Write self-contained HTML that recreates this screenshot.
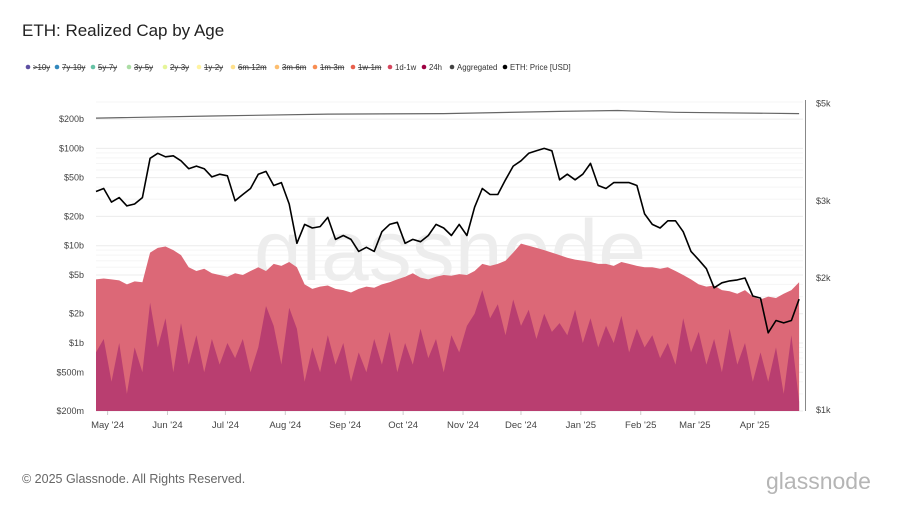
<!DOCTYPE html>
<html><head><meta charset="utf-8"><style>
body{margin:0;width:900px;height:506px;background:#fff;font-family:"Liberation Sans",sans-serif;overflow:hidden;position:relative}
.t{position:absolute}
</style></head><body>
<div class="t" style="left:22px;top:21px;font-size:17px;color:#222">ETH: Realized Cap by Age</div>
<svg id="c" width="900" height="506" style="position:absolute;left:0;top:0"></svg>
<div class="t" style="left:22px;top:472px;font-size:12.5px;color:#666">© 2025 Glassnode. All Rights Reserved.</div>
<div class="t" style="left:766px;top:468px;font-size:23px;color:#b5b5b5">glassnode</div>
<script>
const days=[];for(let i=0;i<92;i++)days.push(i*4);
const price=[3150,3200,2980,3050,2920,2950,3050,3750,3850,3780,3800,3700,3550,3600,3550,3400,3450,3420,3000,3100,3200,3450,3500,3250,3300,2950,2400,2650,2600,2620,2750,2450,2500,2450,2300,2350,2300,2550,2650,2680,2400,2450,2420,2500,2650,2600,2500,2650,2500,2900,3200,3100,3100,3350,3600,3700,3850,3900,3950,3900,3350,3450,3350,3450,3650,3250,3200,3300,3300,3300,3250,2800,2650,2600,2700,2700,2550,2300,2200,2100,1900,1950,1970,1980,2000,1820,1800,1500,1600,1580,1600,1790];
const cap1d1w=[4.5,4.6,4.5,4.4,4.0,4.3,4.2,8.5,9.5,9.8,9.0,8.0,6.0,5.5,5.8,5.2,5.0,4.8,5.2,5.0,5.5,6.0,5.5,6.5,6.2,6.8,6.0,4.0,3.6,3.8,3.9,3.6,3.5,3.3,3.6,3.8,3.7,4.0,4.2,4.5,4.8,5.2,4.7,4.5,4.8,5.0,4.9,5.1,5.0,5.5,6.5,6.2,6.5,7.0,8.5,10.5,10.0,9.5,9.0,8.5,8.0,7.5,7.2,7.0,6.8,6.5,6.5,6.2,6.8,6.5,6.2,6.0,6.0,5.8,6.0,5.5,5.0,4.5,4.0,3.8,3.9,3.5,3.4,3.2,3.5,3.0,2.8,3.0,2.9,3.2,3.5,4.2];
const cap24h=[0.8,1.1,0.4,1.0,0.3,0.9,0.5,2.6,0.9,1.8,0.5,1.6,0.6,1.2,0.5,1.1,0.6,1.0,0.7,1.1,0.5,0.9,2.4,1.5,0.6,2.3,1.4,0.4,0.9,0.5,1.2,0.6,1.0,0.4,0.8,0.5,1.1,0.6,1.3,0.5,1.0,0.6,1.4,0.7,1.1,0.5,1.2,0.8,1.5,2.0,3.5,1.8,2.5,1.2,2.8,1.5,2.2,1.1,2.0,1.3,1.6,1.2,2.2,1.0,1.8,0.9,1.5,1.0,1.9,0.8,1.4,0.9,1.2,0.7,1.0,0.6,1.8,0.8,1.3,0.6,1.1,0.5,1.4,0.6,1.0,0.4,0.8,0.4,0.9,0.3,1.2,0.25];
const aggDays=[0,60,120,180,240,270,300,364];
const aggregated=[205,215,225,228,240,245,235,228];
const leftTicks=[0.2,0.5,1,2,5,10,20,50,100,200];
const leftLabels=["$200m","$500m","$1b","$2b","$5b","$10b","$20b","$50b","$100b","$200b"];
const rightTicks=[1000,2000,3000,5000];
const rightLabels=["$1k","$2k","$3k","$5k"];
const monthLabels=["May '24","Jun '24","Jul '24","Aug '24","Sep '24","Oct '24","Nov '24","Dec '24","Jan '25","Feb '25","Mar '25","Apr '25"];
const monthDays=[6,37,67,98,129,159,190,220,251,282,310,341];
const legendNames=[">10y","7y-10y","5y-7y","3y-5y","2y-3y","1y-2y","6m-12m","3m-6m","1m-3m","1w-1m","1d-1w","24h","Aggregated","ETH: Price [USD]"];
const legendColors=["#5e4fa2","#3288bd","#66c2a5","#abdda4","#e6f598","#fff3a0","#fee08b","#fdbe6f","#f88d52","#e8604d","#d5475e","#9e0142","#444","#000"];
const legendX=[28,57,93,129,165,199,233,277,315,353,390,424,452,505];

const X0=96,X1=803,Y0=411;
const x=d=>X0+d*(X1-X0)/366;
const yL=v=>411-(Math.log10(v)-Math.log10(0.2))*97.3;
const yR=p=>410-Math.log10(p/1000)*438.5;
const svg=document.getElementById('c');const NS="http://www.w3.org/2000/svg";
function mk(t,a,p){const e=document.createElementNS(NS,t);for(const k in a)e.setAttribute(k,a[k]);(p||svg).appendChild(e);return e;}
for(let dec=-1;dec<3;dec++)for(let m=1;m<10;m++){const v=m*Math.pow(10,dec);if(v<0.2||v>300)continue;
 const g=mk('line',{x1:X0,x2:X1,y1:yL(v),y2:yL(v),stroke:(m==1||m==2||m==5)?'#ececec':'#f5f5f5','stroke-width':1});
 }
const wm=mk('text',{x:450,y:280,'text-anchor':'middle','font-size':86,fill:'#ededed','font-family':'Liberation Sans, sans-serif'});
wm.textContent='glassnode';

function area(arr,col,name){let d=`M${x(days[0])},${Y0}`;arr.forEach((v,i)=>d+=`L${x(days[i]).toFixed(1)},${yL(v).toFixed(1)}`);d+=`L${x(days[days.length-1])},${Y0}Z`;
 const p=mk('path',{d,fill:col});}
area(cap1d1w,'#dc6877','area-1d-1w');
area(cap24h,'#b93e70','area-24h');
{let d='';aggregated.forEach((v,i)=>d+=(i?'L':'M')+x(aggDays[i]).toFixed(1)+','+yL(v).toFixed(1));
 const p=mk('path',{d,fill:'none',stroke:'#666','stroke-width':1.2});}
{let d='';price.forEach((v,i)=>d+=(i?'L':'M')+x(days[i]).toFixed(1)+','+yR(v).toFixed(1));
 const p=mk('path',{d,fill:'none',stroke:'#000','stroke-width':1.6,'stroke-linejoin':'round'});}
{const l=mk('line',{x1:805.5,x2:805.5,y1:100,y2:411,stroke:'#888','stroke-width':1});}
leftTicks.forEach((v,i)=>{const t=mk('text',{x:84,y:yL(v)+3,'text-anchor':'end','font-size':9,fill:'#444'});t.textContent=leftLabels[i];
 });
rightTicks.forEach((v,i)=>{const t=mk('text',{x:816,y:yR(v)+3,'font-size':9,fill:'#444'});t.textContent=rightLabels[i];
 });
monthDays.forEach((d,i)=>{const t=mk('text',{x:x(d),y:428,'text-anchor':'middle','font-size':9.5,fill:'#444'});t.textContent=monthLabels[i];
 
 const k=mk('line',{x1:x(d),x2:x(d),y1:411,y2:415,stroke:'#ccc'});});
legendNames.forEach((n,i)=>{const g=mk('g',{});
 mk('circle',{cx:legendX[i],cy:67,r:2.3,fill:legendColors[i]},g);
 const t=mk('text',{x:legendX[i]+5,y:70,'font-size':7.8,fill:'#333','text-decoration':i<10?'line-through':'none'},g);t.textContent=n;});
</script>
</body></html>
